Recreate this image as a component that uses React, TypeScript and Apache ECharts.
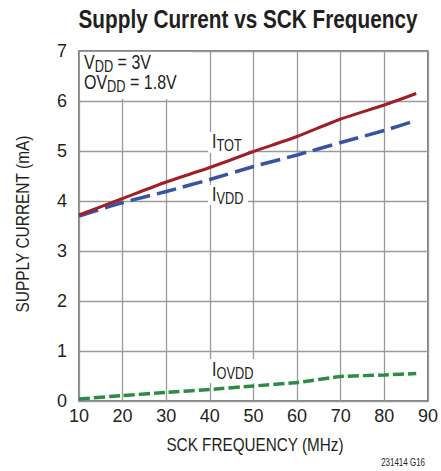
import React, { useEffect, useRef } from "react";
import * as echarts from "echarts";

const freq = [10, 20, 30, 40, 50, 60, 70, 80, 87.3];
const iTot = [3.72, 4.05, 4.38, 4.67, 4.99, 5.29, 5.64, 5.92, 6.15];
const iVdd = [3.7, 3.97, 4.19, 4.43, 4.69, 4.92, 5.17, 5.41, 5.61];
const iOvdd = [0.04, 0.11, 0.17, 0.23, 0.3, 0.37, 0.49, 0.52, 0.55];
const xTicks = [10, 20, 30, 40, 50, 60, 70, 80, 90];
const yTicks = [0, 1, 2, 3, 4, 5, 6, 7];

const FONT = "'Liberation Sans', Arial, sans-serif";
const TXT = "#231f20";
const CONDENSE = 0.8;

function pairs(ys: number[]) {
  return freq.map((x, i) => [x, ys[i]]);
}

// rich text with subscript, condensed via scaleX
function subLabel(parts: [string, boolean][], x: number, y: number) {
  const text = parts
    .map(([t, sub]) => `{${sub ? "s" : "m"}|${t}}`)
    .join("");
  return {
    type: "text",
    x,
    y,
    z: 5,
    scaleX: CONDENSE,
    style: {
      text,
      fontFamily: FONT,
      verticalAlign: "top",
      rich: {
        m: { fontSize: 20, fontFamily: FONT, fill: TXT, verticalAlign: "top" },
        s: { fontSize: 16, fontFamily: FONT, fill: TXT, verticalAlign: "top", padding: [6, 0, 0, 0] },
      },
    },
  };
}

function mask(x: number, y: number, w: number, h: number) {
  return { type: "rect", z: 4, shape: { x, y, width: w, height: h }, style: { fill: "#ffffff" } };
}

export default function App() {
  const ref = useRef<HTMLDivElement>(null);
  useEffect(() => {
    document.body.style.margin = "0";
    if (!ref.current) return;
    const chart = echarts.init(ref.current, null, { renderer: "svg" });
    const lineStyle = (color: string, width: number, dash: number[] | null) => ({
      color,
      width,
      type: dash ? dash : "solid",
      cap: "butt",
    });
    chart.setOption({
      animation: false,
      grid: {
        left: 79,
        right: 10,
        top: 51,
        bottom: 70,
        show: true,
        borderColor: "#555555",
        borderWidth: 1.5,
        containLabel: false,
      },
      xAxis: {
        type: "value",
        min: xTicks[0],
        max: xTicks[xTicks.length - 1],
        interval: 10,
        axisLine: { show: false },
        axisTick: { show: false },
        axisLabel: { fontFamily: FONT, fontSize: 18, color: TXT, margin: 6 },
        splitLine: { show: true, lineStyle: { color: "#9a9a9a", width: 1.3 } },
      },
      yAxis: {
        type: "value",
        min: yTicks[0],
        max: yTicks[yTicks.length - 1],
        interval: 1,
        axisLine: { show: false },
        axisTick: { show: false },
        axisLabel: { fontFamily: FONT, fontSize: 18, color: TXT, margin: 12 },
        splitLine: { show: true, lineStyle: { color: "#9a9a9a", width: 1.3 } },
      },
      series: [
        {
          name: "IOVDD",
          type: "line",
          z: 10,
          data: pairs(iOvdd),
          showSymbol: false,
          smooth: 0.15,
          lineStyle: lineStyle("#2e8b47", 3.5, [11, 4]),
        },
        {
          name: "IVDD",
          type: "line",
          z: 10,
          data: pairs(iVdd),
          showSymbol: false,
          smooth: 0.15,
          lineStyle: lineStyle("#3953a4", 3.5, [20, 7]),
        },
        {
          name: "ITOT",
          type: "line",
          z: 10,
          data: pairs(iTot),
          showSymbol: false,
          smooth: 0.2,
          lineStyle: lineStyle("#a01f26", 3, null),
        },
      ],
      graphic: [
        mask(80, 52, 112, 47),
        mask(208, 132, 40, 21),
        mask(208, 185, 40, 20),
        mask(208, 359, 52, 24),
        subLabel([["V", false], ["DD", true], [" = 3V", false]], 84, 52),
        subLabel([["OV", false], ["DD", true], [" = 1.8V", false]], 84, 72),
        subLabel([["I", false], ["TOT", true]], 212, 131),
        subLabel([["I", false], ["VDD", true]], 212, 184),
        subLabel([["I", false], ["OVDD", true]], 212, 359),
        {
          type: "text",
          x: 248,
          y: 19,
          z: 5,
          scaleX: 0.83,
          style: {
            text: "Supply Current vs SCK Frequency",
            fontFamily: FONT,
            fontWeight: "bold",
            fontSize: 25,
            fill: TXT,
            textAlign: "center",
            verticalAlign: "middle",
          },
        },
        {
          type: "text",
          x: 255,
          y: 445,
          z: 5,
          scaleX: 0.85,
          style: {
            text: "SCK FREQUENCY (MHz)",
            fontFamily: FONT,
            fontSize: 18,
            fill: TXT,
            textAlign: "center",
            verticalAlign: "middle",
          },
        },
        {
          type: "text",
          x: 23,
          y: 224,
          z: 5,
          rotation: Math.PI / 2,
          scaleX: 0.86,
          style: {
            text: "SUPPLY CURRENT (mA)",
            fontFamily: FONT,
            fontSize: 18,
            fill: TXT,
            textAlign: "center",
            verticalAlign: "middle",
          },
        },
        {
          type: "text",
          x: 425,
          y: 463,
          z: 5,
          scaleX: 0.76,
          style: {
            text: "231414 G16",
            fontFamily: FONT,
            fontSize: 10.5,
            fill: TXT,
            textAlign: "right",
            verticalAlign: "middle",
          },
        },
      ],
    });
    return () => chart.dispose();
  }, []);
  return <div ref={ref} style={{ width: 441, height: 471 }} />;
}
